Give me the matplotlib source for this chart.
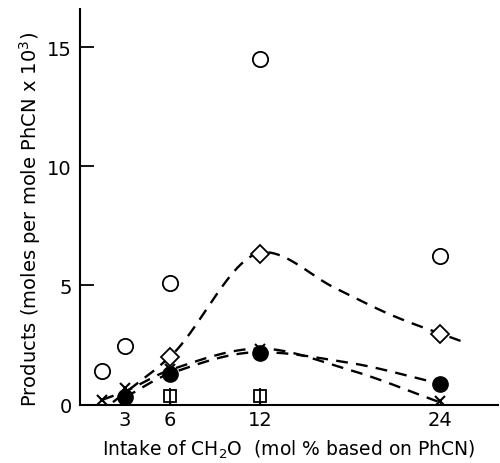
import numpy as np
import matplotlib.pyplot as plt

x_circ = [1.5, 3, 6, 12, 24]
y_circ = [1.4, 2.47, 5.1, 14.5, 6.25]

x_diam = [6, 12, 24]
y_diam = [2.0, 6.33, 2.95]

x_fill = [3, 6, 12, 24]
y_fill = [0.3, 1.28, 2.15, 0.86]

x_cross = [1.5, 3, 6, 12, 24]
y_cross = [0.2, 0.7, 1.5, 2.35, 0.15]

x_sq = [6, 12]
y_sq = [0.37, 0.37]

# hand-drawn dashed curves (guide nodes)
cx_diam = [2.2, 6, 12.3, 17, 21, 25.5]
cy_diam = [0.1, 2.0, 6.4, 4.9, 3.7, 2.65]
cx_fill = [3, 6, 12, 18, 24]
cy_fill = [0.3, 1.3, 2.2, 1.75, 0.88]
cx_cross = [1.5, 3, 6, 12, 18, 24]
cy_cross = [0.2, 0.55, 1.45, 2.35, 1.45, 0.1]


def pchip(xs, ys, n=200):
    # monotone cubic through the guide nodes (no overshoot)
    x = np.asarray(xs, float)
    y = np.asarray(ys, float)
    h = np.diff(x)
    d = np.diff(y) / h
    k = len(x)
    m = np.zeros(k)
    for i in range(1, k - 1):
        if d[i - 1] * d[i] > 0:
            w1 = 2 * h[i] + h[i - 1]
            w2 = h[i] + 2 * h[i - 1]
            m[i] = (w1 + w2) / (w1 / d[i - 1] + w2 / d[i])
    m[0] = d[0]
    m[-1] = d[-1]
    xx = np.linspace(x[0], x[-1], n)
    idx = np.clip(np.searchsorted(x, xx) - 1, 0, k - 2)
    t = (xx - x[idx]) / h[idx]
    h00 = 2 * t ** 3 - 3 * t ** 2 + 1
    h10 = t ** 3 - 2 * t ** 2 + t
    h01 = -2 * t ** 3 + 3 * t ** 2
    h11 = t ** 3 - t ** 2
    yy = h00 * y[idx] + h10 * h[idx] * m[idx] + h01 * y[idx + 1] + h11 * h[idx] * m[idx + 1]
    return xx, yy


fig = plt.figure(figsize=(5.0, 4.64), dpi=100)
ax = fig.add_axes([0.16, 0.126, 0.836, 0.852])

for cx, cy in [(cx_diam, cy_diam), (cx_fill, cy_fill), (cx_cross, cy_cross)]:
    sx, sy = pchip(cx, cy)
    ax.plot(sx, sy, color='black', lw=1.7, ls=(0, (5, 3.5)))

ax.plot(x_circ, y_circ, 'o', ms=11, mfc='white', mec='black', mew=1.3, ls='none')
ax.plot(x_diam, y_diam, 'D', ms=9, mfc='white', mec='black', mew=1.3, ls='none')
ax.plot(x_cross, y_cross, 'x', ms=7, color='black', mew=1.5, ls='none')
ax.plot(x_fill, y_fill, 'o', ms=11, color='black', ls='none')
ax.plot(x_sq, y_sq, 's', ms=8, mfc='white', mec='black', mew=1.3, ls='none')
ax.plot(x_sq, y_sq, '|', ms=11, color='black', mew=1.3, ls='none')

ax.set_xlim(0, 27.9)
ax.set_ylim(0, 16.6)
ax.spines['top'].set_visible(False)
ax.spines['right'].set_visible(False)
ax.spines['left'].set_linewidth(1.5)
ax.spines['bottom'].set_linewidth(1.5)

ax.set_xticks([3, 6, 12, 24])
ax.set_yticks([0, 5, 10, 15])
ax.tick_params(axis='y', direction='in', length=10, width=1.3, labelsize=14, pad=6)
ax.tick_params(axis='x', direction='in', length=3, width=1, labelsize=14, pad=4)

ax.set_xlabel('Intake of CH$_2$O  (mol % based on PhCN)', fontsize=13.5, labelpad=6)
ax.set_ylabel('Products (moles per mole PhCN x 10$^3$)', fontsize=14)
ax.yaxis.set_label_coords(-0.088, 0.47)

fig.savefig('out.png', dpi=100)
